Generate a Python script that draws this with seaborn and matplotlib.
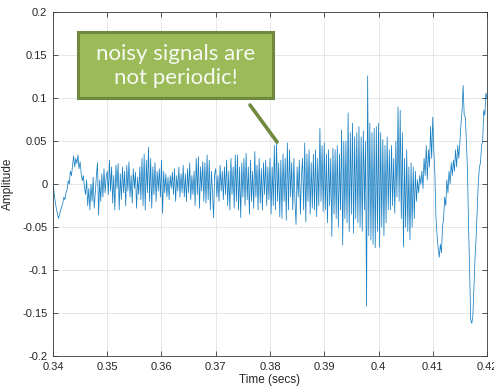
import numpy as np
import pandas as pd
import matplotlib
matplotlib.use("Agg")
import matplotlib.pyplot as plt
from matplotlib.patches import Rectangle
from matplotlib.lines import Line2D
import seaborn as sns

# ---- data ----
t_start, t_end = 0.34, 0.42
amplitude = [
    0.002, -0.010, -0.020, -0.028, -0.034, -0.040, -0.036, -0.030, -0.027, -0.022,
    -0.015, -0.018, -0.010, -0.006, 0.004, 0.000, 0.015, 0.010, 0.022, 0.033,
    0.020, 0.030, 0.024, 0.034, 0.018, 0.026, 0.012, 0.004, 0.010, -0.004,
    -0.012, 0.005, -0.025, -0.005, -0.030, 0.000, -0.020, 0.008, -0.028, -0.010,
    0.010, 0.025, -0.036, 0.005, -0.020, 0.012, -0.015, 0.018, -0.010, 0.008,
    0.015, -0.012, 0.028, -0.008, 0.020, -0.022, 0.010, -0.030, 0.022, -0.005,
    0.024, -0.030, 0.012, -0.018, 0.020, -0.010, 0.015, -0.025, 0.022, -0.008,
    0.026, -0.015, 0.010, -0.022, 0.018, -0.005, 0.014, -0.028, 0.008, -0.012,
    0.020, -0.018, 0.030, -0.025, 0.035, -0.030, 0.028, -0.010, 0.043, -0.020,
    0.030, -0.028, 0.020, -0.012, 0.025, -0.020, 0.015, -0.008, 0.018, -0.015,
    0.028, -0.034, 0.015, -0.010, 0.012, -0.015, 0.008, -0.018, 0.010, -0.005,
    0.014, -0.012, 0.018, -0.020, 0.010, -0.008, 0.020, -0.015, 0.012, -0.010,
    0.022, -0.015, 0.012, -0.020, 0.018, -0.010, 0.025, -0.018, 0.010, -0.012,
    0.015, -0.025, 0.030, -0.012, 0.032, -0.028, 0.020, -0.008, 0.026, -0.020,
    0.025, -0.022, 0.034, -0.018, 0.028, -0.030, 0.015, -0.010, -0.039, 0.012,
    0.018, -0.015, 0.010, -0.020, 0.022, -0.008, 0.015, -0.018, 0.020, -0.012,
    0.028, -0.025, 0.015, -0.030, 0.030, -0.012, 0.020, -0.028, 0.034, -0.020,
    0.034, -0.030, 0.020, -0.039, 0.025, -0.015, 0.030, -0.025, 0.036, -0.018,
    0.020, -0.035, 0.028, -0.020, 0.015, -0.028, 0.038, -0.015, 0.022, -0.030,
    0.030, -0.022, 0.018, -0.030, 0.025, -0.012, 0.028, -0.025, 0.020, -0.018,
    0.030, -0.035, 0.020, -0.025, 0.045, -0.030, 0.049, -0.020, 0.025, -0.038,
    0.028, -0.040, 0.035, -0.020, 0.030, -0.042, 0.048, -0.030, 0.040, -0.015,
    0.025, -0.030, 0.030, -0.020, -0.047, 0.020, -0.015, 0.028, -0.035, 0.010,
    0.030, -0.030, 0.048, -0.044, 0.035, -0.020, 0.040, -0.035, 0.025, -0.028,
    0.035, -0.030, 0.040, -0.038, 0.030, -0.025, 0.065, -0.020, 0.045, -0.032,
    0.048, -0.030, 0.035, -0.045, 0.040, -0.025, 0.030, -0.061, 0.042, -0.035,
    0.040, -0.040, 0.045, -0.050, 0.035, -0.030, 0.063, -0.071, 0.050, -0.040,
    0.050, -0.045, 0.083, -0.055, 0.060, -0.035, 0.071, -0.057, 0.055, -0.040,
    0.060, -0.045, 0.067, -0.050, 0.055, -0.055, 0.062, -0.030, 0.050, -0.142,
    0.126, -0.060, 0.071, -0.065, 0.060, -0.070, 0.065, -0.074, 0.067, -0.055,
    0.071, -0.073, 0.060, -0.050, 0.052, -0.060, 0.045, -0.045, 0.055, -0.030,
    0.040, -0.030, 0.045, -0.025, 0.030, -0.034, 0.050, -0.015, 0.090, -0.020,
    0.086, -0.040, 0.060, -0.073, 0.030, -0.050, 0.040, -0.055, 0.020, -0.065,
    0.025, -0.050, 0.020, -0.040, 0.015, -0.020, 0.005, -0.010, 0.010, 0.000,
    0.015, -0.005, 0.030, 0.010, 0.045, 0.005, 0.040, 0.020, 0.067, 0.030,
    0.078, 0.040, 0.010, -0.040, -0.060, -0.075, -0.085, -0.070, -0.080, -0.050,
    -0.040, -0.015, -0.025, 0.005, -0.010, 0.015, 0.000, 0.025, 0.010, 0.028,
    0.015, 0.040, 0.020, 0.045, 0.030, 0.048, 0.070, 0.085, 0.115, 0.080,
    0.078, 0.050, 0.017, -0.050, -0.100, -0.158, -0.162, -0.152, -0.119, -0.085,
    -0.061, -0.030, 0.002, 0.020, 0.025, 0.045, 0.050, 0.086, 0.080, 0.106,
    0.100,
]
x_ticks = [0.34, 0.35, 0.36, 0.37, 0.38, 0.39, 0.40, 0.41, 0.42]
x_tick_labels = ["0.34", "0.35", "0.36", "0.37", "0.38", "0.39", "0.4", "0.41", "0.42"]
y_ticks = [-0.2, -0.15, -0.1, -0.05, 0.0, 0.05, 0.1, 0.15, 0.2]
y_tick_labels = ["-0.2", "-0.15", "-0.1", "-0.05", "0", "0.05", "0.1", "0.15", "0.2"]
annotation_text = "noisy signals are\nnot periodic!"
annotation_target = (0.3813, 0.049)

time = np.linspace(t_start, t_end, len(amplitude))
df = pd.DataFrame({"Time (secs)": time, "Amplitude": amplitude})

# ---- style ----
sns.set_theme(style="white")
plt.rcParams["font.family"] = ["Liberation Sans", "DejaVu Sans"]
plt.rcParams["axes.unicode_minus"] = False

W, H, DPI = 494, 387, 100
fig = plt.figure(figsize=(W / DPI, H / DPI), dpi=DPI, facecolor="white")
ax = fig.add_axes([53 / W, 1 - 356 / H, (487 - 53) / W, (356 - 12.3) / H])

sns.lineplot(data=df, x="Time (secs)", y="Amplitude", ax=ax, estimator=None,
             sort=False, color="#0072BD", linewidth=0.55, alpha=0.9)

ax.set_xlim(t_start, t_end)
ax.set_ylim(-0.2, 0.2)
ax.set_xticks(x_ticks)
ax.set_xticklabels(x_tick_labels)
ax.set_yticks(y_ticks)
ax.set_yticklabels(y_tick_labels)
ax.grid(True, color="#E3E3E3", linewidth=0.6)
ax.set_axisbelow(True)
for s in ax.spines.values():
    s.set_visible(True)
    s.set_color("#3A3A3A")
    s.set_linewidth(0.6)
ax.tick_params(direction="in", length=3.5, width=0.6, color="#3A3A3A",
               labelsize=8, labelcolor="#262626", top=True, right=True,
               bottom=True, left=True, pad=4)
ax.set_xlabel("Time (secs)", fontsize=8.5, color="#262626", labelpad=2)
ax.set_ylabel("Amplitude", fontsize=8.5, color="#262626", labelpad=6)

# ---- annotation callout ----
green_face = "#9BBB59"
green_edge = "#71893F"
px = lambda x, y: (x / W, 1 - y / H)
x0, y0 = px(78, 98)
fig.patches.append(Rectangle((x0, y0), 195 / W, 66 / H, transform=fig.transFigure,
                             facecolor=green_face, edgecolor=green_edge,
                             linewidth=2.2, zorder=5))
start = px(250, 105)
end_disp = ax.transData.transform(annotation_target)
end = fig.transFigure.inverted().transform(end_disp)
fig.lines.append(Line2D([start[0], end[0]], [start[1], end[1]], transform=fig.transFigure,
                        color=green_edge, linewidth=2.6, zorder=5))
cx, cy = px(175.5, 66)
fig.text(cx, cy, annotation_text, ha="center", va="center", fontsize=16,
         color="#F7F9F2", family=["Lato", "DejaVu Sans"], fontweight="normal",
         linespacing=1.2, zorder=6)

fig.savefig("out.png", dpi=DPI, facecolor="white")
